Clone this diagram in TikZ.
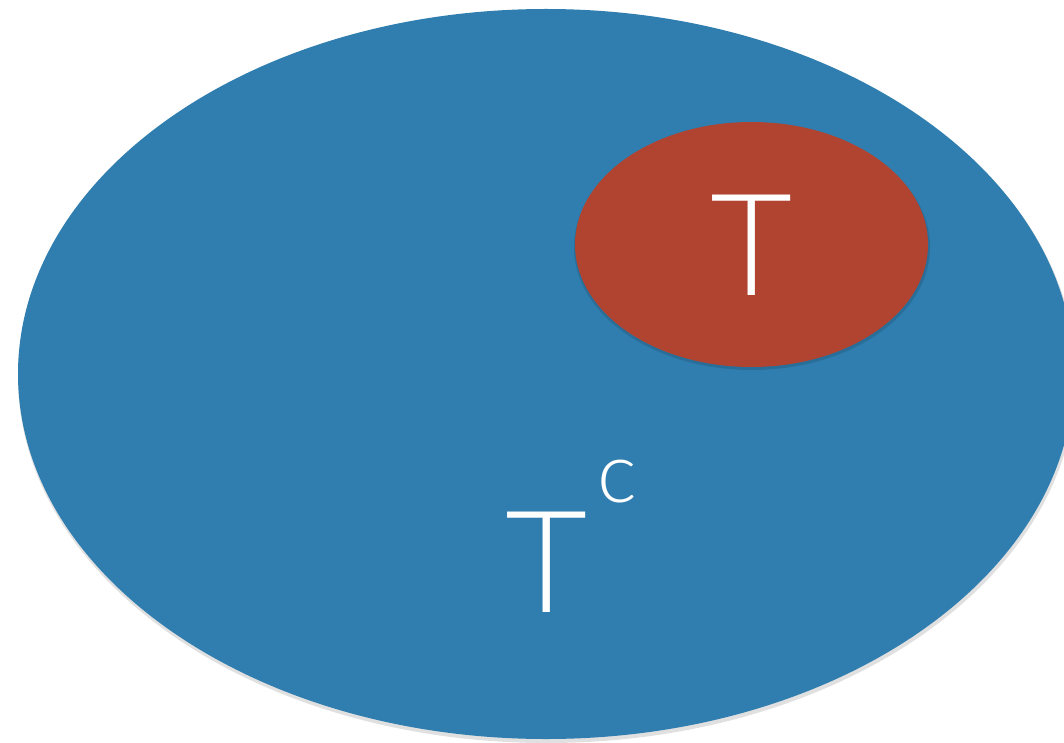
\documentclass[tikz,border=0pt]{standalone}
\usepackage{fontspec}
\setmainfont{Lato Light}
\definecolor{setblue}{HTML}{2F7EAF}
\definecolor{setred}{HTML}{B04431}
\usetikzlibrary{shapes.geometric}
\tikzset{
  setshape/.style={ellipse, inner sep=0pt},
  lbl/.style={text=white, inner sep=0pt, anchor=base},
  shade/.style={fill=black, opacity=0.12}
}
\begin{document}
\begin{tikzpicture}[x=1pt,y=-1pt]
\useasboundingbox (0,0) rectangle (1064,743);
\clip (0,0) rectangle (1064,743);
\fill[white] (0,0) rectangle (1064,743);
\fill[shade] (547,377) ellipse [x radius=529pt, y radius=366pt];
\node[setshape, minimum width=1056pt, minimum height=730pt, fill=setblue] (U) at (546,374) {};
\fill[shade] (752,247) ellipse [x radius=178pt, y radius=123pt];
\node[setshape, minimum width=353pt, minimum height=245pt, fill=setred] (T) at (751.5,244.5) {};
\node[lbl, font=\fontsize{142}{142}\selectfont] (tlabel) at (752,295) {T};
\node[lbl, font=\fontsize{142}{142}\selectfont] (tclabel) at (546.5,612) {T};
\node[lbl, font=\fontsize{84}{84}\selectfont] (clabel) at (617.5,502) {c};
\end{tikzpicture}
\end{document}
